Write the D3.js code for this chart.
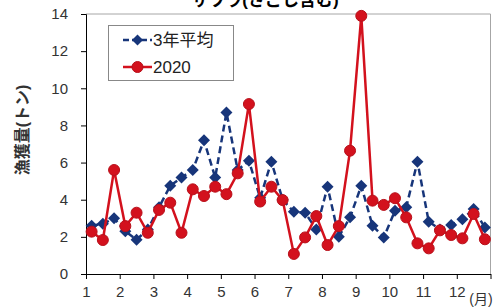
<!DOCTYPE html>
<html>
<head>
<meta charset="utf-8">
<script src="https://cdn.jsdelivr.net/npm/d3@7"></script>
<style>
  body { margin: 0; background: #fff; }
  svg { display: block; font-family: "Liberation Sans", Arial, "Noto Sans CJK JP", sans-serif; }
</style>
</head>
<body>
<script>
// chart size
var width = 497
var height = 307
var margin = { top: 14, left: 86, right: 6.5, bottom: 33 }

// data: three points per month (上旬, 中旬, 下旬)
const months = [1, 2, 3, 4, 5, 6, 7, 8, 9, 10, 11, 12]
const decades = ["上旬", "中旬", "下旬"]
const yTicks = [0, 2, 4, 6, 8, 10, 12, 14]
const avg3 = [
    2.6, 2.7, 3.0, 2.3, 1.85, 2.4, 3.6, 4.75, 5.2, 5.6, 7.2, 5.2,
    8.7, 5.6, 6.1, 4.1, 6.05, 4.0, 3.35, 3.3, 2.4, 4.7, 2.0, 3.05,
    4.75, 2.6, 1.97, 3.4, 3.6, 6.05, 2.82, 2.4, 2.64, 2.95, 3.5, 2.5
]
const y2020 = [
    2.28, 1.83, 5.6, 2.58, 3.3, 2.22, 3.45, 3.84, 2.22, 4.56, 4.2, 4.7,
    4.3, 5.42, 9.15, 3.9, 4.7, 3.98, 1.08, 1.97, 3.12, 1.56, 2.58, 6.64,
    13.9, 3.95, 3.72, 4.08, 3.05, 1.65, 1.38, 2.35, 2.1, 1.92, 3.23, 1.87
]
const seriesNames = ["3年平均", "2020"]
const title = "サワラ(さごし含む)"
const yLabel = "漁獲量(トン)"

const categories = []
months.forEach(function (m) {
    decades.forEach(function (d) { categories.push(m + "月" + d) })
})

const blue = "#17357a"
const red = "#d3111d"

var svg = d3.select("body").append("svg")
    .attr("width", width)
    .attr("height", height)

var xBand = d3.scaleBand()
    .domain(categories)
    .range([margin.left, width - margin.right])

var xMonth = d3.scaleLinear()
    .domain([1, 13])
    .range([margin.left, width - margin.right])

var yScale = d3.scaleLinear()
    .domain([0, 14])
    .range([height - margin.bottom, margin.top])

function xPos(d, i) { return xBand(categories[i]) + xBand.bandwidth() / 2 }

// title (mostly cut off at the top)
svg.append("text")
    .attr("x", 265)
    .attr("y", 6)
    .attr("text-anchor", "middle")
    .style("font-size", "17px")
    .style("font-weight", "bold")
    .text(title)

// top / right frame
svg.append("path")
    .attr("d", "M" + margin.left + "," + yScale(14) + "H" + xMonth(13) + "V" + yScale(0))
    .style("fill", "none")
    .style("stroke", "#a6a6a6")
    .style("stroke-width", 1)

// y axis
var yAxis = d3.axisLeft(yScale)
    .tickValues(yTicks)
    .tickSize(5)
    .tickPadding(13)

var gy = svg.append("g")
    .attr("transform", "translate(" + margin.left + ",0)")
    .call(yAxis)
gy.selectAll("text").style("font-size", "15px").style("fill", "#333")
gy.selectAll("line, path").style("stroke", "#000")

// x axis
var xAxis = d3.axisBottom(xMonth)
    .tickValues(months.concat([13]))
    .tickFormat(function (d) { return d <= 12 ? d : "" })
    .tickSize(5)
    .tickPadding(7)
    .tickSizeOuter(0)

var gx = svg.append("g")
    .attr("transform", "translate(0," + yScale(0) + ")")
    .call(xAxis)
gx.selectAll("text").style("font-size", "15px").style("fill", "#333")
gx.selectAll("line, path").style("stroke", "#000")

svg.append("text")
    .attr("x", 481)
    .attr("y", 304)
    .attr("text-anchor", "middle")
    .style("font-size", "14px")
    .style("fill", "#333")
    .text("(月)")

// y label
svg.append("text")
    .attr("transform", "translate(28,130) rotate(-90)")
    .attr("text-anchor", "middle")
    .style("font-size", "16px")
    .style("font-weight", "bold")
    .style("fill", "#333")
    .text(yLabel)

var line = d3.line()
    .x(xPos)
    .y(function (d) { return yScale(d) })

function diamond(cx, cy, r) {
    return "M" + cx + "," + (cy - r) + "L" + (cx + r) + "," + cy +
        "L" + cx + "," + (cy + r) + "L" + (cx - r) + "," + cy + "Z"
}

// 3年平均
svg.append("path")
    .datum(avg3)
    .attr("d", line)
    .style("fill", "none")
    .style("stroke", blue)
    .style("stroke-width", 2.5)
    .style("stroke-dasharray", "7,4")

svg.selectAll("path.avg")
    .data(avg3)
    .enter()
    .append("path")
    .attr("class", "avg")
    .attr("d", function (d, i) { return diamond(xPos(d, i), yScale(d), 6) })
    .style("fill", blue)

// 2020
svg.append("path")
    .datum(y2020)
    .attr("d", line)
    .style("fill", "none")
    .style("stroke", red)
    .style("stroke-width", 2.5)

svg.selectAll("circle.y2020")
    .data(y2020)
    .enter()
    .append("circle")
    .attr("class", "y2020")
    .attr("cx", xPos)
    .attr("cy", function (d) { return yScale(d) })
    .attr("r", 5.5)
    .style("fill", red)
    .style("stroke", "#b8101a")
    .style("stroke-width", 1)

// legend
var legend = svg.append("g")
svg.append("rect")
    .attr("x", 108.5)
    .attr("y", 25.5)
    .attr("width", 125)
    .attr("height", 55)
    .style("fill", "#fff")
    .style("stroke", "#888")
    .style("stroke-width", 1)

var legendRows = [
    { name: seriesNames[0], y: 40, color: blue, dash: "6,3" },
    { name: seriesNames[1], y: 67, color: red, dash: null }
]
legendRows.forEach(function (r, k) {
    svg.append("line")
        .attr("x1", 123).attr("x2", 152)
        .attr("y1", r.y).attr("y2", r.y)
        .style("stroke", r.color)
        .style("stroke-width", 2.5)
        .style("stroke-dasharray", r.dash)
    if (k === 0) {
        svg.append("path")
            .attr("d", diamond(137.5, r.y, 5.5))
            .style("fill", r.color)
    } else {
        svg.append("circle")
            .attr("cx", 137.5).attr("cy", r.y).attr("r", 5.5)
            .style("fill", r.color)
            .style("stroke", "#b8101a")
    }
    svg.append("text")
        .attr("x", 153)
        .attr("y", r.y + 6)
        .style("font-size", "17px")
        .style("fill", "#222")
        .text(r.name)
})
</script>
</body>
</html>
